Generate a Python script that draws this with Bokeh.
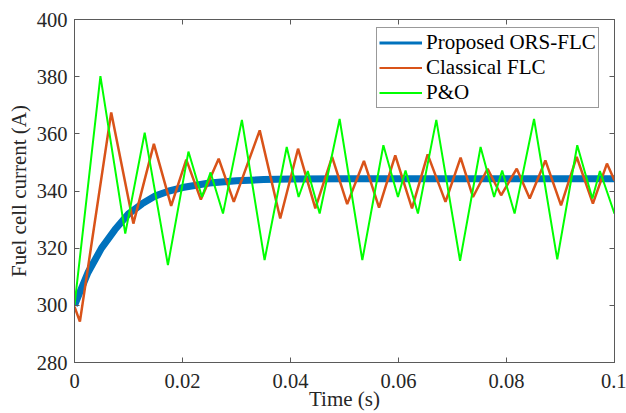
from bokeh.plotting import figure
from bokeh.models import (Range1d, FixedTicker, LinearAxis, CustomJSTickFormatter,
                          Legend, LegendItem)
from bokeh.embed import file_html
from bokeh.resources import INLINE

# ---- data ----
t_ors = [0, 0.0025, 0.005, 0.0075, 0.01, 0.0125, 0.015, 0.0175, 0.02, 0.025,
         0.03, 0.035, 0.04, 0.05, 0.1]
i_ors = [300, 311.5, 320, 326.5, 332, 335.5, 338.3, 340, 341.2, 342.8,
         343.6, 344.0, 344.2, 344.3, 344.3]

t_flc = [0, 0.001, 0.0068, 0.0109, 0.0147, 0.0179, 0.0207, 0.0234, 0.0267, 0.0295,
         0.0343, 0.0381, 0.0414, 0.0446, 0.0477, 0.0505, 0.0536, 0.0564, 0.0594,
         0.0625, 0.0654, 0.0687, 0.0715, 0.0738, 0.0765, 0.079, 0.0819, 0.0843,
         0.0872, 0.0901, 0.093, 0.096, 0.0986, 0.1]
i_flc = [299.5, 294.3, 367.5, 328.6, 356.5, 334.8, 351.0, 337.0, 351.3, 336.2,
         361.2, 330.4, 354.8, 333.9, 351.9, 335.4, 350.5, 334.2, 352.5,
         333.9, 352.8, 336.2, 351.7, 337.9, 347.8, 338.5, 347.8, 337.4,
         350.7, 335.0, 351.9, 335.6, 349.6, 343.7]

t_po = [0, 0.0048, 0.0094, 0.013, 0.0173, 0.0211, 0.0236, 0.0252, 0.0275, 0.031,
        0.0352, 0.0393, 0.0415, 0.0432, 0.0454, 0.0491, 0.0533, 0.0572, 0.0599,
        0.0613, 0.0636, 0.067, 0.0714, 0.0752, 0.0777, 0.0792, 0.0815, 0.0851,
        0.0894, 0.0931, 0.0959, 0.0973, 0.1]
i_po = [300, 380.2, 325.1, 360.4, 314.1, 353.8, 337.9, 346.5, 332.1, 364.9,
        315.8, 355.4, 337.9, 347.0, 332.1, 365.2, 315.8, 356.0, 337.9,
        347.2, 332.1, 364.9, 315.6, 355.4, 337.9, 347.2, 332.1, 365.2,
        316.1, 356.0, 337.4, 347.0, 332.1]

x_ticks = [0, 0.02, 0.04, 0.06, 0.08, 0.1]
y_ticks = [280, 300, 320, 340, 360, 380, 400]

labels = ["Proposed ORS-FLC", "Classical FLC", "P&O"]
colors = ["#0072BD", "#D95319", "#00FF00"]

FONT = "Liberation Serif"
TXT = "#262626"
AX = "#5a5a5a"

p = figure(width=626, height=413, output_backend="svg", toolbar_location=None,
           x_range=Range1d(0, 0.1), y_range=Range1d(280, 400),
           min_border_left=74, min_border_right=12, min_border_top=19,
           min_border_bottom=50, x_axis_label="Time (s)",
           y_axis_label="Fuel cell current (A)")
p.background_fill_color = "white"
p.border_fill_color = "white"
p.outline_line_color = AX
p.outline_line_width = 1
p.xgrid.visible = False
p.ygrid.visible = False

fmt = CustomJSTickFormatter(code="return String(Math.round(tick*100)/100);")

for ax in p.xaxis:
    ax.ticker = FixedTicker(ticks=x_ticks)
    ax.formatter = fmt
for ax in p.yaxis:
    ax.ticker = FixedTicker(ticks=y_ticks)

for ax in list(p.xaxis) + list(p.yaxis):
    ax.major_tick_in = 5
    ax.major_tick_out = 0
    ax.minor_tick_in = 0
    ax.minor_tick_out = 0
    ax.axis_line_color = AX
    ax.major_tick_line_color = AX
    ax.major_label_text_font = FONT
    ax.major_label_text_font_size = "20.5px"
    ax.major_label_text_color = TXT
    ax.axis_label_text_font = FONT
    ax.axis_label_text_font_size = "21px"
    ax.axis_label_text_font_style = "normal"
    ax.axis_label_text_color = TXT

p.xaxis.major_label_standoff = 11
p.xaxis.axis_label_standoff = -4
p.yaxis.major_label_standoff = 7
p.yaxis.axis_label_standoff = 3

# box ticks on top and right (no labels)
blank = CustomJSTickFormatter(code="return '';")
for loc, tk in (("above", x_ticks), ("right", y_ticks)):
    a = LinearAxis(ticker=FixedTicker(ticks=tk), formatter=blank)
    a.major_tick_in = 5
    a.major_tick_out = 0
    a.minor_tick_in = 0
    a.minor_tick_out = 0
    a.axis_line_color = AX
    a.major_tick_line_color = AX
    a.major_label_text_font_size = "1px"
    a.major_label_standoff = 0
    p.add_layout(a, loc)

r1 = p.line(t_ors, i_ors, line_color=colors[0], line_width=7)
r2 = p.line(t_flc, i_flc, line_color=colors[1], line_width=2.5)
r3 = p.line(t_po, i_po, line_color=colors[2], line_width=2)

# legend samples: single-point lines (draw nothing in the plot itself)
l1 = p.line([0.0], [-1000.0], line_color=colors[0], line_width=3)
l2 = p.line([0.0], [-1000.0], line_color=colors[1], line_width=2)
l3 = p.line([0.0], [-1000.0], line_color=colors[2], line_width=2)

legend = Legend(items=[LegendItem(label=labels[0], renderers=[l1]),
                       LegendItem(label=labels[1], renderers=[l2]),
                       LegendItem(label=labels[2], renderers=[l3])],
                location=(302, 254))
legend.label_text_font = FONT
legend.label_text_font_size = "21px"
legend.label_text_color = "black"
legend.label_height = 23
legend.glyph_height = 23
legend.glyph_width = 43
legend.label_standoff = 4
legend.spacing = 0
legend.padding = 2
legend.margin = 0
legend.border_line_color = "#333333"
legend.border_line_width = 1
legend.background_fill_color = "white"
legend.background_fill_alpha = 1
p.add_layout(legend, "center")

open("out.html", "w").write(file_html(p, INLINE))
